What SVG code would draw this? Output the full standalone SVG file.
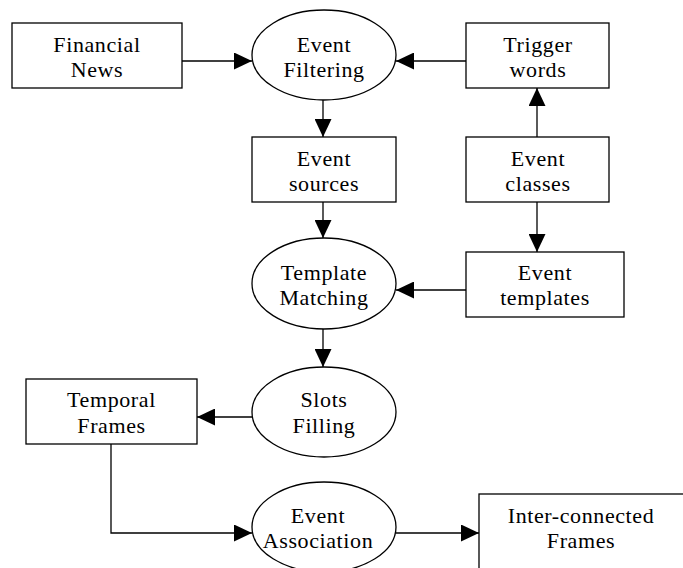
<svg xmlns="http://www.w3.org/2000/svg" width="683" height="568" viewBox="0 0 683 568">
<style>
.n{fill:#fff;stroke:#000;stroke-width:1.3}
.t{font-family:"Liberation Serif","Times New Roman",serif;font-size:22px;letter-spacing:0.6px;fill:#000;text-anchor:middle}
.c{fill:none;stroke:#000;stroke-width:1.3}
</style>
<defs>
<marker id="ah" markerUnits="userSpaceOnUse" markerWidth="18" markerHeight="17" refX="18" refY="8.5" orient="auto">
<path d="M0,0 L18,8.5 L0,17 z" fill="#000"/>
</marker>
</defs>
<rect width="683" height="568" fill="#fff"/>
<g id="connectors">
<path class="c" d="M182,61 H252" marker-end="url(#ah)"/>
<path class="c" d="M466,61 H396" marker-end="url(#ah)"/>
<path class="c" d="M323,100 V137" marker-end="url(#ah)"/>
<path class="c" d="M537,137 V88" marker-end="url(#ah)"/>
<path class="c" d="M323,202 V238" marker-end="url(#ah)"/>
<path class="c" d="M537,202 V252" marker-end="url(#ah)"/>
<path class="c" d="M466,290 H396" marker-end="url(#ah)"/>
<path class="c" d="M323,329 V367" marker-end="url(#ah)"/>
<path class="c" d="M252,417 H197" marker-end="url(#ah)"/>
<path class="c" d="M111,444 V533 H252" marker-end="url(#ah)"/>
<path class="c" d="M396,533 H479" marker-end="url(#ah)"/>
</g>
<g id="financial-news">
<rect class="n" x="12" y="23" width="170" height="65"/>
<text class="t" x="97" y="52">Financial</text>
<text class="t" x="97" y="77">News</text>
</g>
<g id="event-filtering">
<ellipse class="n" cx="324" cy="55" rx="72" ry="45"/>
<text class="t" x="324" y="52">Event</text>
<text class="t" x="324" y="77">Filtering</text>
</g>
<g id="trigger-words">
<rect class="n" x="466" y="23" width="143" height="65"/>
<text class="t" x="538" y="52">Trigger</text>
<text class="t" x="538" y="77">words</text>
</g>
<g id="event-sources">
<rect class="n" x="252" y="137" width="144" height="65"/>
<text class="t" x="324" y="166">Event</text>
<text class="t" x="324" y="191">sources</text>
</g>
<g id="event-classes">
<rect class="n" x="466" y="137" width="143" height="65"/>
<text class="t" x="538" y="166">Event</text>
<text class="t" x="538" y="191">classes</text>
</g>
<g id="template-matching">
<ellipse class="n" cx="324" cy="283.5" rx="72" ry="45.5"/>
<text class="t" x="324" y="280">Template</text>
<text class="t" x="324" y="305">Matching</text>
</g>
<g id="event-templates">
<rect class="n" x="466" y="252" width="158" height="65"/>
<text class="t" x="545" y="280">Event</text>
<text class="t" x="545" y="305">templates</text>
</g>
<g id="slots-filling">
<ellipse class="n" cx="324" cy="412" rx="72" ry="45"/>
<text class="t" x="324" y="407">Slots</text>
<text class="t" x="324" y="433">Filling</text>
</g>
<g id="temporal-frames">
<rect class="n" x="26" y="379" width="171" height="65"/>
<text class="t" x="111.5" y="407">Temporal</text>
<text class="t" x="111.5" y="433">Frames</text>
</g>
<g id="event-association">
<ellipse class="n" cx="324" cy="527" rx="72" ry="45"/>
<text class="t" x="318" y="523">Event</text>
<text class="t" x="318" y="548">Association</text>
</g>
<g id="inter-connected-frames">
<rect class="n" x="479" y="494" width="230" height="100"/>
<text class="t" x="581" y="523">Inter-connected</text>
<text class="t" x="581" y="548">Frames</text>
</g>
</svg>
